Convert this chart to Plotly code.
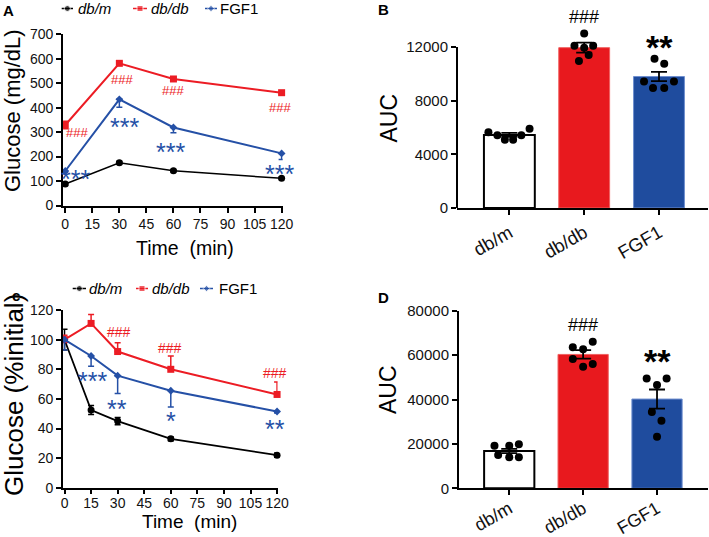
import plotly.graph_objects as go

W, H = 709, 537

# ---------------- data ----------------
time_a = [0, 30, 60, 120]
a_dbm = [88, 175, 142, 111]
a_dbm_err = [6, 6, 5, 5]
a_dbdb = [329, 581, 517, 461]
a_dbdb_err = [15, 6, 6, 6]
a_fgf1 = [141, 434, 319, 213]
a_fgf1_err = [5, 33, 22, 25]

time_c = [0, 15, 30, 60, 120]
c_dbm = [100, 52.5, 45, 33, 22]
c_dbm_err = [7, 3, 2.5, 1.2, 1.5]
c_dbdb = [100, 111, 92, 80, 63]
c_dbdb_err = [3, 6, 6, 9, 8.5]
c_fgf1 = [100, 89, 75.7, 65.5, 51.5]
c_fgf1_err = [7, 7, 12, 11, 1]

groups = ["db/m", "db/db", "FGF1"]
b_mean = [5450, 11950, 9800]
b_sem = [150, 370, 350]
b_pts_dbm = [5650, 5430, 5430, 5090, 5090, 5900]
b_pts_dbdb = [13000, 12100, 11950, 12100, 11400, 10950]
b_pts_fgf1 = [11130, 10760, 9430, 9430, 8940, 8940]
b_ticks = [0, 4000, 8000, 12000]

d_mean = [16800, 60300, 40200]
d_sem = [1000, 1900, 4300]
d_pts_dbm = [19200, 19200, 19800, 15000, 14000, 14000]
d_pts_dbdb = [66000, 63500, 62600, 58200, 56000, 54800]
d_pts_fgf1 = [49500, 49500, 46500, 34400, 30400, 23200]
d_ticks = [0, 20000, 40000, 60000, 80000]

# significance marks (time, value)
a_hash_t = [6.3, 31.3, 60, 119]
a_hash_v = [297, 513, 468, 401]
a_star_t = [5.4, 33, 58.5, 119]
a_star_v = [134, 346, 244, 152]
a_star_txt = ["***", "***", "***", "***"]

c_hash_t = [15.5, 31, 59.6, 118.6]
c_hash_v = [121.5, 105, 94.6, 77.7]
c_star_t = [16, 29.5, 60, 118.6]
c_star_v = [76, 57, 49, 43.5]
c_star_txt = ["***", "**", "*", "**"]

b_sig_v = [14200, 12600]
d_sig_v = [73500, 61000]

# ---------------- style ----------------
RED = "#EC1C24"
BLUE = "#2550A6"
BARRED = "#E8191E"
BARBLUE = "#1F4C9E"
FONT = "Arial, Liberation Sans, sans-serif"

# swarm offsets (category units) for dot plots
b_off = [[-0.28, -0.16, 0.16, -0.06, 0.05, 0.27],
         [0.0, -0.13, 0.0, 0.12, 0.06, -0.07],
         [-0.06, 0.07, -0.2, 0.2, -0.08, 0.07]]
d_off = [[-0.2, 0.0, 0.13, -0.15, 0.0, 0.13],
         [0.13, -0.14, 0.0, -0.14, 0.13, 0.0],
         [-0.14, 0.13, 0.0, -0.07, 0.06, 0.0]]


def dx(p):
    return p / W


def dy(p):
    return 1 - p / H


fig = go.Figure()


def line_trace(x, y, err, color, symbol, size, width, xa, ya, up=True, down=True):
    fig.add_trace(go.Scatter(
        x=x, y=y, mode="lines+markers", xaxis=xa, yaxis=ya,
        line=dict(color=color, width=width),
        marker=dict(color=color, symbol=symbol, size=size),
        error_y=dict(type="data", symmetric=False,
                     array=err if up else [0] * len(err),
                     arrayminus=err if down else [0] * len(err),
                     color=color, thickness=1.5, width=3),
        showlegend=False, hoverinfo="skip", cliponaxis=False))


# Panel A
line_trace(time_a, a_dbm, a_dbm_err, "black", "circle", 7, 1.5, "x", "y")
line_trace(time_a, a_dbdb, a_dbdb_err, RED, "square", 7, 2, "x", "y")
line_trace(time_a, a_fgf1, a_fgf1_err, BLUE, "diamond", 6, 2, "x", "y", up=False)
# Panel C
line_trace(time_c, c_dbm, c_dbm_err, "black", "circle", 7, 1.8, "x3", "y3")
line_trace(time_c, c_dbdb, c_dbdb_err, RED, "square", 7, 2, "x3", "y3", down=False)
line_trace(time_c, c_fgf1, c_fgf1_err, BLUE, "diamond", 6, 2, "x3", "y3", up=False)


def bar_panel(means, sems, pts, offs, xa, ya):
    fig.add_trace(go.Bar(
        x=[0, 1, 2], y=means, width=0.68, xaxis=xa, yaxis=ya,
        marker=dict(color=["white", BARRED, BARBLUE],
                    line=dict(color=["black", "#F06060", "#6F8FCF"], width=[2, 1, 1])),
        showlegend=False, hoverinfo="skip"))
    fig.add_trace(go.Scatter(
        x=[0, 1, 2], y=means, mode="markers", xaxis=xa, yaxis=ya,
        marker=dict(color="rgba(0,0,0,0)", size=1),
        error_y=dict(type="data", array=sems, color="black", thickness=1.8, width=8),
        showlegend=False, hoverinfo="skip", cliponaxis=False))
    for i, vals in enumerate(pts):
        fig.add_trace(go.Scatter(
            x=[i + o for o in offs[i]], y=vals, mode="markers", xaxis=xa, yaxis=ya,
            marker=dict(color="black", size=8),
            showlegend=False, hoverinfo="skip", cliponaxis=False))


bar_panel(b_mean, b_sem, [b_pts_dbm, b_pts_dbdb, b_pts_fgf1], b_off, "x2", "y2")
bar_panel(d_mean, d_sem, [d_pts_dbm, d_pts_dbdb, d_pts_fgf1], d_off, "x4", "y4")

# manual legends on a pixel overlay axis
legend_rows = [8.5, 288.5]
legend_items = [
    [(61.7, 73, 76, "db/m", "black", "circle", True),
     (133, 147, 149, "db/db", RED, "square", True),
     (205, 217, 218, "FGF1", BLUE, "diamond", False)],
    [(72.7, 86, 87, "db/m", "black", "circle", True),
     (136, 148, 150, "db/db", RED, "square", True),
     (200, 213, 217, "FGF1", BLUE, "diamond", False)],
]
annotations = []
for row_y, items in zip(legend_rows, legend_items):
    for (x0, x1, tx, lab, col, sym, ital) in items:
        fig.add_trace(go.Scatter(
            x=[x0, (x0 + x1) / 2, x1], y=[row_y] * 3, mode="lines+markers",
            xaxis="x5", yaxis="y5", line=dict(color=col, width=1.5),
            marker=dict(color=col, symbol=sym, size=[0, 6 if sym != "diamond" else 5, 0]),
            showlegend=False, hoverinfo="skip", cliponaxis=False))
        annotations.append(dict(
            x=tx, y=row_y, xref="x5", yref="y5", xanchor="left", yanchor="middle",
            text=("<i>%s</i>" % lab) if ital else lab, showarrow=False,
            font=dict(family=FONT, size=15, color="black")))


def ax_common(**kw):
    d = dict(showline=True, linecolor="black", linewidth=2, ticks="outside",
             ticklen=5, tickwidth=1.5, tickcolor="black", showgrid=False,
             zeroline=False, fixedrange=True, automargin=False, tickformat="d",
             tickfont=dict(family=FONT, size=14, color="#111"))
    d.update(kw)
    return d


B_TOP = 14500  # drawing room above the 12000 axis end
layout = dict(
    width=W, height=H, margin=dict(l=0, r=0, t=0, b=0, pad=0, autoexpand=False),
    paper_bgcolor="white", plot_bgcolor="rgba(0,0,0,0)",
    font=dict(family=FONT, color="black"), showlegend=False,
    xaxis=ax_common(domain=[dx(63.1), dx(282.7)], range=[-1.2, 120.6],
                    tickmode="linear", tick0=0, dtick=15, anchor="y"),
    yaxis=ax_common(domain=[dy(205.5), dy(34.2)], range=[0, 700],
                    tickmode="linear", tick0=0, dtick=100, anchor="x"),
    xaxis3=ax_common(domain=[dx(63.1), dx(277.6)], range=[-0.8, 120.3],
                     tickmode="linear", tick0=0, dtick=15, anchor="y3", ticklen=4,
                     ticklabelstandoff=-3),
    yaxis3=ax_common(domain=[dy(487.7), dy(310.1)], range=[0, 120],
                     tickmode="linear", tick0=0, dtick=20, anchor="x3"),
    xaxis2=ax_common(domain=[dx(457), dx(708)], range=[-0.7, 2.655],
                     tickmode="array", tickvals=[0, 1, 2], ticktext=groups,
                     tickangle=-30, tickfont=dict(family=FONT, size=18.5, color="#111"),
                     anchor="y2"),
    yaxis2=ax_common(domain=[dy(208), dy(208 - B_TOP * 161 / 12000)], range=[0, B_TOP],
                     tickmode="array", tickvals=b_ticks, anchor="x2", showline=False,
                     tickfont=dict(family=FONT, size=15, color="#111")),
    xaxis4=ax_common(domain=[dx(459), dx(708)], range=[-0.68, 2.69],
                     tickmode="array", tickvals=[0, 1, 2], ticktext=groups,
                     tickangle=-30, tickfont=dict(family=FONT, size=18, color="#111"),
                     anchor="y4", ticklabelstandoff=-4),
    yaxis4=ax_common(domain=[dy(488.3), dy(310.7)], range=[0, 80000],
                     tickmode="array", tickvals=d_ticks, anchor="x4",
                     tickfont=dict(family=FONT, size=15, color="#111")),
    xaxis5=dict(domain=[0, 1], range=[0, W], visible=False, fixedrange=True, anchor="y5"),
    yaxis5=dict(domain=[0, 1], range=[H, 0], visible=False, fixedrange=True, anchor="x5"),
    shapes=[dict(type="line", xref="x2 domain", yref="y2", x0=0, x1=0,
                 y0=0, y1=b_ticks[-1], line=dict(color="black", width=2))],
)

# significance annotations
for t, v in zip(a_hash_t, a_hash_v):
    annotations.append(dict(x=t, y=v, xref="x", yref="y", text="###", showarrow=False,
                            font=dict(family=FONT, size=13, color=RED)))
for t, v, s in zip(a_star_t, a_star_v, a_star_txt):
    annotations.append(dict(x=t, y=v, xref="x", yref="y", text=s, showarrow=False, yshift=-6,
                            font=dict(family=FONT, size=25, color=BLUE)))
for t, v in zip(c_hash_t, c_hash_v):
    annotations.append(dict(x=t, y=v, xref="x3", yref="y3", text="###", showarrow=False,
                            font=dict(family=FONT, size=14, color=RED)))
for t, v, s in zip(c_star_t, c_star_v, c_star_txt):
    annotations.append(dict(x=t, y=v, xref="x3", yref="y3", text=s, showarrow=False, yshift=-6,
                            font=dict(family=FONT, size=25, color=BLUE)))
for xa, ya, vals in (("x2", "y2", b_sig_v), ("x4", "y4", d_sig_v)):
    annotations.append(dict(x=1, y=vals[0], xref=xa, yref=ya, text="###", showarrow=False,
                            font=dict(family=FONT, size=18, color="black")))
    annotations.append(dict(x=2, y=vals[1], xref=xa, yref=ya, text="<b>**</b>", showarrow=False,
                            yshift=-8, font=dict(family=FONT, size=34, color="black")))

# axis titles & panel letters (pixel overlay)
titles = [
    (12, 111, "Glucose (mg/dL)", 22, -90),
    (184.5, 248, "Time\u00a0 (min)", 19.5, 0),
    (388, 118.5, "AUC", 23, -90),
    (14, 395, "Glucose (%initial)", 26, -90),
    (189, 521, "Time\u00a0 (min)", 19, 0),
    (388, 390, "AUC", 23, -90),
]
for x, y, txt, size, ang in titles:
    annotations.append(dict(x=x, y=y, xref="x5", yref="y5", text=txt, showarrow=False,
                            textangle=ang, xanchor="center", yanchor="middle",
                            font=dict(family=FONT, size=size, color="black")))
letters = [(8, 10, "A"), (383, 9, "B"), (16, 295, "c"), (383, 297, "D")]
for x, y, txt in letters:
    annotations.append(dict(x=x, y=y, xref="x5", yref="y5", text="<b>%s</b>" % txt,
                            showarrow=False, xanchor="center", yanchor="middle",
                            font=dict(family=FONT, size=15, color="black")))

layout["annotations"] = annotations
fig.update_layout(**layout)
fig.write_html("out.html", config={"displayModeBar": False},
               post_script="document.body.style.margin='0px';document.body.style.overflow='hidden';")
